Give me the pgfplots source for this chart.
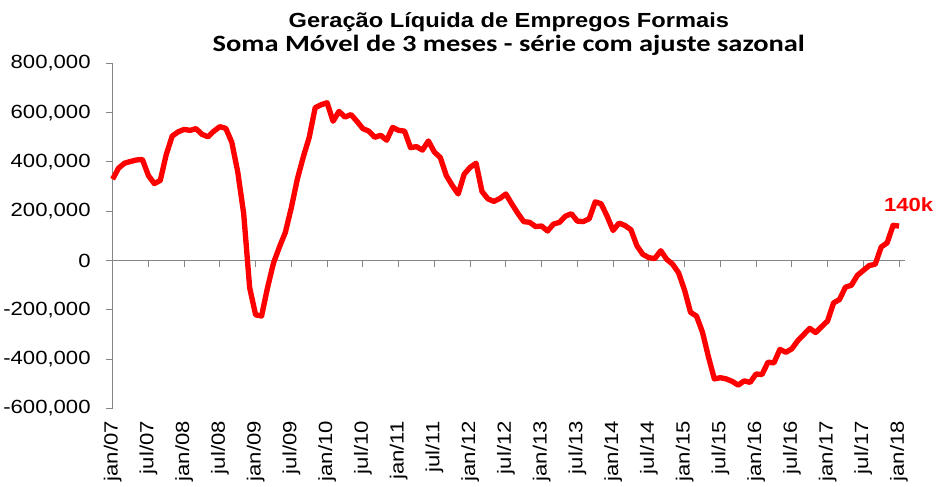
\documentclass[border=0pt]{standalone}
\usepackage{fontspec}
\setmainfont{Liberation Sans}
\newfontfamily\tickfont[FakeStretch=1.16]{Liberation Sans}
\newfontfamily\subfont[FakeStretch=1.22]{Carlito}
\usepackage{pgfplots}
\pgfplotsset{compat=1.18}
\definecolor{axgray}{HTML}{868686}
\definecolor{serie}{HTML}{FF0000}

% saldo de empregos formais, soma movel 3 meses (dessaz.), mes 0 = jan/07
\pgfplotstableread{
m v
0 330000
1 375000
2 395000
3 402000
4 408000
5 410000
6 345000
7 312000
8 325000
9 430000
10 505000
11 522000
12 532000
13 528000
14 535000
15 512000
16 502000
17 525000
18 543000
19 536000
20 480000
21 360000
22 190000
23 -110000
24 -220000
25 -225000
26 -110000
27 -10000
28 55000
29 115000
30 215000
31 330000
32 420000
33 500000
34 620000
35 632000
36 640000
37 565000
38 605000
39 582000
40 592000
41 565000
42 535000
43 525000
44 500000
45 508000
46 488000
47 540000
48 528000
49 525000
50 458000
51 462000
52 448000
53 485000
54 440000
55 418000
56 345000
57 305000
58 270000
59 350000
60 378000
61 395000
62 280000
63 250000
64 240000
65 252000
66 270000
67 230000
68 192000
69 158000
70 155000
71 138000
72 140000
73 120000
74 148000
75 155000
76 180000
77 190000
78 160000
79 158000
80 170000
81 238000
82 230000
83 180000
84 122000
85 152000
86 142000
87 125000
88 60000
89 25000
90 12000
91 8000
92 40000
93 5000
94 -15000
95 -50000
96 -120000
97 -210000
98 -225000
99 -290000
100 -390000
101 -480000
102 -475000
103 -480000
104 -490000
105 -505000
106 -488000
107 -494000
108 -460000
109 -462000
110 -412000
111 -415000
112 -360000
113 -372000
114 -358000
115 -325000
116 -300000
117 -275000
118 -292000
119 -268000
120 -245000
121 -172000
122 -158000
123 -108000
124 -100000
125 -60000
126 -40000
127 -20000
128 -15000
129 55000
130 72000
131 143000
132 140000
}\saldo

\begin{document}
\begin{tikzpicture}
\pgfplotsset{
  base/.style={scale only axis, width=594.5pt, height=259pt,
    xmin=0, xmax=133, ymin=-600000, ymax=800000, clip=false},
  lbl/.style={font=\tickfont\fontsize{14.3}{16}\selectfont, text=black}
}
% eixo principal: linha do zero com ticks, eixo y a esquerda
\begin{axis}[base,
  axis x line*=middle, axis y line*=left,
  axis line style={axgray, line width=0.8pt},
  xtick={0,6,...,132}, xticklabels={},
  ytick={-600000,-400000,-200000,0,200000,400000,600000,800000},
  tick align=outside, major tick length=5pt,
  tick style={axgray, line width=0.8pt},
  yticklabel style={lbl, xshift=-8pt},
  scaled y ticks=false,
  /pgf/number format/fixed,
  /pgf/number format/1000 sep={,},
  /pgf/number format/assume math mode=true]
\addplot[serie, line width=4pt, line join=round] table[x=m, y=v] {\saldo};
\node[text=serie, font=\tickfont\bfseries\fontsize{14.3}{16}\selectfont]
  at (axis cs:133.6,226000) {140k};
\coordinate (sw) at (rel axis cs:0,0);
\coordinate (ne) at (rel axis cs:1,1);
\coordinate (nn) at (rel axis cs:0.5,1);
\end{axis}
% rotulos de datas embaixo
\begin{axis}[base,
  axis x line*=bottom, hide y axis,
  x axis line style={draw=none},
  xtick={0,6,...,132}, major tick length=0pt,
  xticklabels={jan/07,jul/07,jan/08,jul/08,jan/09,jul/09,jan/10,jul/10,jan/11,jul/11,jan/12,jul/12,jan/13,jul/13,jan/14,jul/14,jan/15,jul/15,jan/16,jul/16,jan/17,jul/17,jan/18},
  xticklabel style={lbl, yshift=-6pt, rotate=90, anchor=east}]
\end{axis}
\node[anchor=base, font=\tickfont\bfseries\fontsize{15.3}{18}\selectfont]
  at ([yshift=27.2pt]nn) {Geração Líquida de Empregos Formais};
\node[anchor=base, font=\subfont\bfseries\fontsize{17.5}{20}\selectfont]
  at ([yshift=8.5pt]nn) {Soma Móvel de 3 meses - série com ajuste sazonal};
\pgfresetboundingbox
\useasboundingbox ([xshift=-84.5pt,yshift=-58.7pt]sw) rectangle ([xshift=24pt,yshift=47.5pt]ne);
\end{tikzpicture}
\end{document}
